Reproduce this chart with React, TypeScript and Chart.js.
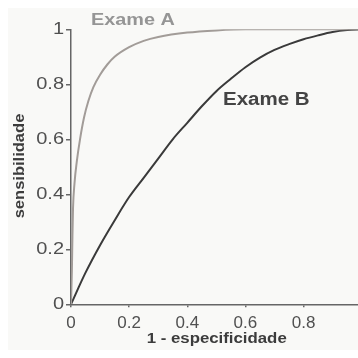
import React, { useEffect, useRef } from "react";
import { Chart, registerables } from "chart.js";

Chart.register(...registerables);

// 1 - especificidade (x) and sensibilidade (y)
const examAX = [0, 0.003, 0.005, 0.007, 0.012, 0.02, 0.031, 0.045, 0.06, 0.077, 0.1, 0.125, 0.15, 0.2, 0.25, 0.3, 0.4, 0.5, 0.6, 0.8, 1];
const examAY = [0, 0.12, 0.25, 0.35, 0.44, 0.52, 0.6, 0.68, 0.74, 0.79, 0.835, 0.872, 0.9, 0.935, 0.958, 0.972, 0.988, 0.996, 1, 1, 1];

const examBX = [0, 0.05, 0.1, 0.15, 0.2, 0.25, 0.3, 0.35, 0.4, 0.45, 0.5, 0.55, 0.6, 0.65, 0.7, 0.75, 0.8, 0.85, 0.9, 0.95, 1];
const examBY = [0, 0.115, 0.215, 0.305, 0.39, 0.46, 0.53, 0.6, 0.66, 0.72, 0.775, 0.82, 0.862, 0.897, 0.925, 0.946, 0.964, 0.978, 0.99, 0.997, 1];

const tickValues = [0, 0.2, 0.4, 0.6, 0.8, 1];
const xTickLabels = ["0", "0.2", "0.4", "0.6", "0.8", "1"];
const yTickLabels = ["0", "0.2", "0.4", "0.6", "0.8", "1"];

const seriesNames = ["Exame A", "Exame B"];
const xTitle = "1 - especificidade";
const yTitle = "sensibilidade";

function drawText(
  ctx: CanvasRenderingContext2D,
  text: string,
  x: number,
  y: number,
  font: string,
  color: string,
  align: CanvasTextAlign,
  baseline: CanvasTextBaseline,
  sx: number,
  rot = 0
) {
  ctx.save();
  ctx.translate(x, y);
  if (rot) ctx.rotate(rot);
  ctx.scale(sx, 1);
  ctx.font = font;
  ctx.fillStyle = color;
  ctx.textAlign = align;
  ctx.textBaseline = baseline;
  ctx.fillText(text, 0, 0);
  ctx.restore();
}

const labelsPlugin = {
  id: "labelsPlugin",
  afterDraw(chart: any) {
    const ctx = chart.ctx as CanvasRenderingContext2D;
    const xs = chart.scales.x;
    const ys = chart.scales.y;
    tickValues.forEach((v, i) => {
      drawText(ctx, yTickLabels[i], 64, ys.getPixelForValue(v) + 0.5, '16px "Liberation Sans"', "#505050", "right", "middle", 1.25);
      drawText(ctx, xTickLabels[i], xs.getPixelForValue(v), 323, '17px "Liberation Sans"', "#505050", "center", "middle", 1.0);
    });
    drawText(ctx, yTitle, 20, 166, 'bold 14px "Liberation Sans"', "#3c3c3c", "center", "middle", 1.18, -Math.PI / 2);
    drawText(ctx, xTitle, 216.7, 339, 'bold 14px "Liberation Sans"', "#3c3c3c", "center", "middle", 1.2);
    drawText(ctx, seriesNames[0], 91, 25, 'bold 16px "Liberation Sans"', "#959595", "left", "alphabetic", 1.24);
    drawText(ctx, seriesNames[1], 223, 105, 'bold 18px "Liberation Sans"', "#444444", "left", "alphabetic", 1.14);
  },
};

export default function App() {
  const ref = useRef<HTMLCanvasElement | null>(null);

  useEffect(() => {
    document.body.style.overflow = "hidden";
    const canvas = ref.current;
    if (!canvas) return;
    const chart = new Chart(canvas, {
      type: "line",
      data: {
        datasets: [
          {
            label: seriesNames[0],
            data: examAX.map((x, i) => ({ x, y: examAY[i] })),
            borderColor: "#a29c98",
            borderWidth: 2,
            pointRadius: 0,
            cubicInterpolationMode: "monotone",
            fill: false,
          },
          {
            label: seriesNames[1],
            data: examBX.map((x, i) => ({ x, y: examBY[i] })),
            borderColor: "#3a3a3a",
            borderWidth: 2,
            pointRadius: 0,
            cubicInterpolationMode: "monotone",
            fill: false,
          },
        ],
      },
      options: {
        animation: false,
        responsive: false,
        devicePixelRatio: 1,
        layout: { padding: { left: 66, right: 4.3, top: 29.3, bottom: 50.7 } },
        plugins: { legend: { display: false }, tooltip: { enabled: false } },
        scales: {
          x: {
            type: "linear",
            min: 0,
            max: 1,
            ticks: { display: false, stepSize: 0.2 },
            grid: { display: true, drawOnChartArea: false, drawTicks: true, tickLength: 3, color: "#666", lineWidth: 1.5 },
            border: { display: true, color: "#666", width: 1.5 },
          },
          y: {
            type: "linear",
            min: 0,
            max: 1,
            ticks: { display: false, stepSize: 0.2 },
            grid: { display: true, drawOnChartArea: false, drawTicks: true, tickLength: 5, color: "#666", lineWidth: 1.5 },
            border: { display: true, color: "#666", width: 1.5 },
          },
        },
      },
      plugins: [labelsPlugin],
    });
    return () => chart.destroy();
  }, []);

  return (
    <div style={{ position: "fixed", left: 0, top: 0, width: 358, height: 358, overflow: "hidden", background: "#ffffff" }}>
      <div style={{ position: "absolute", left: 8, top: 8, width: 360, height: 342, background: "#f9f9f7" }} />
      <canvas ref={ref} width={366} height={358} style={{ position: "absolute", left: 0, top: 0, width: 366, height: 358 }} />
    </div>
  );
}
